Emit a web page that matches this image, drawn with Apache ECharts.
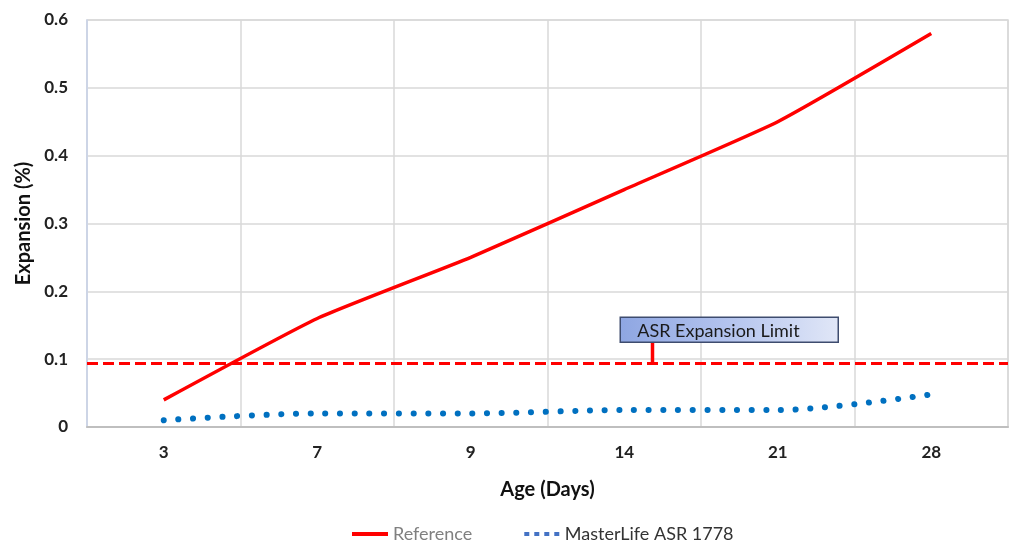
<!DOCTYPE html>
<html>
<head>
<meta charset="utf-8">
<script src="https://cdn.jsdelivr.net/npm/echarts@6/dist/echarts.min.js"></script>
<style>html,body{margin:0;padding:0;background:#fff}#c{width:1012px;height:548px}</style>
</head>
<body>
<div id="c"></div>
<script>
const categories = ['3', '7', '9', '14', '21', '28'];
const referenceValues = [0.04, 0.16, 0.25, 0.35, 0.45, 0.58];
const masterLifeValues = [0.01, 0.02, 0.02, 0.025, 0.025, 0.048];
const limitValue = 0.094;
const limitLabel = 'ASR Expansion Limit';
const seriesNames = ['Reference', 'MasterLife ASR 1778'];

const FONT = 'Lato, "Open Sans", sans-serif';
const chart = echarts.init(document.getElementById('c'));
chart.setOption({
  animation: false,
  textStyle: { fontFamily: FONT },
  grid: { left: 87, right: 4, top: 20, bottom: 121, show: true, borderColor: '#d9d9d9', borderWidth: 1.5 },
  legend: {
    bottom: 0, left: 347, itemGap: 52, itemWidth: 36, itemHeight: 4,
    textStyle: { fontSize: 18, fontFamily: FONT },
    data: [
      { name: seriesNames[0], icon: 'path://M0 0H36V4H0Z', itemStyle: { color: '#ff0000' }, textStyle: { color: '#808080' } },
      { name: seriesNames[1], icon: 'path://M0 0H5V4H0ZM10 0H15V4H10ZM20 0H25V4H20ZM30 0H35V4H30Z', itemStyle: { color: '#4472C4' }, textStyle: { color: '#333' } }
    ]
  },
  xAxis: {
    type: 'category', data: categories, boundaryGap: true,
    name: 'Age (Days)', nameLocation: 'middle', nameGap: 53,
    nameTextStyle: { fontSize: 20, fontWeight: 'bold', color: '#111', fontFamily: FONT },
    axisLine: { lineStyle: { color: '#bfbfbf', width: 2 } },
    axisTick: { show: false },
    axisLabel: { fontSize: 17, fontWeight: 'bold', color: '#222', margin: 17 },
    splitLine: { show: true, interval: 0, lineStyle: { color: '#d9d9d9', width: 1.5 } }
  },
  yAxis: {
    type: 'value', min: 0, max: 0.6, interval: 0.1,
    name: 'Expansion (%)', nameLocation: 'middle', nameGap: 47,
    nameTextStyle: { fontSize: 20, fontWeight: 'bold', color: '#111', fontFamily: FONT },
    axisLine: { show: true, lineStyle: { color: '#c9d3ea', width: 1.5 } },
    axisTick: { show: false },
    axisLabel: { fontSize: 17, fontWeight: 'bold', color: '#222', margin: 19, formatter: v => v === 0 ? '0' : String(+v.toFixed(1)) },
    splitLine: { lineStyle: { color: '#d9d9d9', width: 1.5 } }
  },
  series: [
    {
      name: seriesNames[0], type: 'line', data: referenceValues, smooth: 0.15,
      showSymbol: false, symbol: 'none', color: '#ff0000',
      lineStyle: { color: '#ff0000', width: 3.5 },
      markLine: {
        silent: true, symbol: 'none', precision: 4, label: { show: false },
        lineStyle: { color: '#ff0000', type: [11, 5], width: 3 },
        data: [{ yAxis: limitValue }]
      },
      z: 3
    },
    {
      name: seriesNames[1], type: 'line', data: masterLifeValues, smooth: 0.3,
      showSymbol: false, symbol: 'none', color: '#4472C4',
      lineStyle: { color: '#0070C0', width: 6, type: [0.1, 14.6], cap: 'round' },
      z: 2
    }
  ]
});

// Annotation anchored to the limit value on the scale
const anchorX = chart.convertToPixel({ xAxisIndex: 0 }, '14') + 28;
const lineY = chart.convertToPixel({ yAxisIndex: 0 }, limitValue);
const boxW = 218, boxH = 25, boxLeft = anchorX - 32, boxTop = lineY - 46;
chart.setOption({
  graphic: [
    {
      type: 'rect', z: 100,
      shape: { x: anchorX - 1.5, y: boxTop + boxH, width: 3.5, height: lineY - boxTop - boxH - 1 },
      style: { fill: '#ff0000' }
    },
    {
      type: 'rect', z: 101,
      shape: { x: boxLeft, y: boxTop, width: boxW, height: boxH },
      style: {
        fill: new echarts.graphic.LinearGradient(0, 0, 1, 0, [
          { offset: 0, color: '#8ea6e2' }, { offset: 0.5, color: '#b4c4ee' }, { offset: 1, color: '#e1e7f7' }
        ]),
        stroke: '#3e4c6e', lineWidth: 1.5
      }
    },
    {
      type: 'text', z: 102,
      x: boxLeft + 17, y: boxTop + boxH / 2 + 1,
      style: { text: limitLabel, fontSize: 18, fontFamily: FONT, fill: '#1a1a1a', verticalAlign: 'middle' }
    }
  ]
});
</script>
</body>
</html>
